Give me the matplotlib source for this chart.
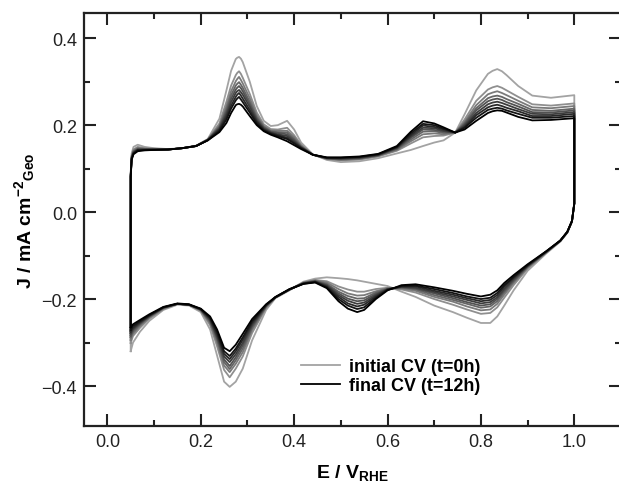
import numpy as np
import matplotlib
matplotlib.use('Agg')
import matplotlib.pyplot as plt

plt.rcParams['font.family'] = ['Liberation Sans', 'DejaVu Sans']
plt.rcParams['mathtext.fontset'] = 'custom'
plt.rcParams['mathtext.rm'] = 'Liberation Sans'
plt.rcParams['mathtext.bf'] = 'Liberation Sans:bold'
plt.rcParams['mathtext.default'] = 'bf'

# potentials of the anodic (upward) and cathodic (downward) sweep, V vs RHE
E_UP = [0.050, 0.050, 0.052, 0.056, 0.065, 0.080, 0.100, 0.130, 0.160, 0.190,
        0.215, 0.240, 0.255, 0.265, 0.275, 0.278, 0.282, 0.286, 0.290, 0.305,
        0.320, 0.335, 0.350, 0.365, 0.385, 0.400, 0.415, 0.440, 0.470, 0.500,
        0.540, 0.580, 0.620, 0.650, 0.676, 0.700, 0.720, 0.745, 0.765, 0.790,
        0.815, 0.825, 0.835, 0.845, 0.855, 0.880, 0.910, 0.950, 1.000]
E_DOWN = [1.000, 0.995, 0.985, 0.970, 0.940, 0.900, 0.870, 0.850, 0.835, 0.820,
          0.800, 0.770, 0.740, 0.700, 0.660, 0.630, 0.600, 0.575, 0.550, 0.535,
          0.515, 0.495, 0.470, 0.445, 0.420, 0.390, 0.360, 0.340, 0.310, 0.290,
          0.275, 0.262, 0.250, 0.235, 0.220, 0.200, 0.175, 0.150, 0.120, 0.090,
          0.070, 0.055, 0.050]

# current density (mA/cm2) at each potential, one column per CV, t=0h -> t=12h
J_UP = [
    [-0.320, -0.301, -0.294, -0.288, -0.284, -0.279, -0.275, -0.271, -0.265],
    [0.090, 0.087, 0.085, 0.084, 0.083, 0.083, 0.082, 0.081, 0.080],
    [0.135, 0.130, 0.128, 0.126, 0.125, 0.124, 0.123, 0.122, 0.120],
    [0.150, 0.144, 0.142, 0.140, 0.139, 0.137, 0.136, 0.135, 0.133],
    [0.155, 0.150, 0.148, 0.146, 0.145, 0.144, 0.143, 0.142, 0.140],
    [0.150, 0.147, 0.146, 0.145, 0.145, 0.144, 0.143, 0.143, 0.142],
    [0.147, 0.146, 0.145, 0.145, 0.144, 0.144, 0.144, 0.143, 0.143],
    [0.145, 0.144, 0.144, 0.144, 0.144, 0.144, 0.144, 0.144, 0.144],
    [0.147, 0.147, 0.147, 0.147, 0.147, 0.147, 0.147, 0.147, 0.147],
    [0.153, 0.152, 0.152, 0.152, 0.152, 0.152, 0.152, 0.152, 0.152],
    [0.168, 0.167, 0.167, 0.166, 0.166, 0.166, 0.166, 0.165, 0.165],
    [0.215, 0.204, 0.200, 0.197, 0.195, 0.192, 0.190, 0.187, 0.184],
    [0.280, 0.254, 0.244, 0.237, 0.231, 0.225, 0.219, 0.213, 0.205],
    [0.325, 0.291, 0.278, 0.269, 0.261, 0.253, 0.245, 0.238, 0.228],
    [0.352, 0.315, 0.301, 0.291, 0.282, 0.274, 0.265, 0.257, 0.246],
    [0.355, 0.320, 0.306, 0.295, 0.286, 0.278, 0.270, 0.261, 0.248],
    [0.357, 0.324, 0.311, 0.299, 0.290, 0.281, 0.274, 0.265, 0.249],
    [0.353, 0.318, 0.304, 0.293, 0.285, 0.276, 0.268, 0.259, 0.247],
    [0.345, 0.309, 0.296, 0.286, 0.278, 0.270, 0.261, 0.253, 0.243],
    [0.300, 0.272, 0.262, 0.254, 0.248, 0.242, 0.235, 0.229, 0.221],
    [0.244, 0.229, 0.223, 0.218, 0.215, 0.211, 0.208, 0.204, 0.200],
    [0.210, 0.202, 0.198, 0.196, 0.194, 0.192, 0.190, 0.188, 0.186],
    [0.198, 0.191, 0.188, 0.186, 0.185, 0.183, 0.182, 0.180, 0.178],
    [0.200, 0.190, 0.187, 0.184, 0.182, 0.179, 0.177, 0.175, 0.172],
    [0.210, 0.194, 0.187, 0.183, 0.179, 0.175, 0.171, 0.168, 0.163],
    [0.190, 0.177, 0.173, 0.169, 0.166, 0.163, 0.160, 0.158, 0.154],
    [0.160, 0.155, 0.153, 0.151, 0.150, 0.149, 0.148, 0.147, 0.145],
    [0.133, 0.132, 0.132, 0.132, 0.132, 0.132, 0.132, 0.132, 0.132],
    [0.120, 0.122, 0.123, 0.123, 0.124, 0.124, 0.125, 0.125, 0.126],
    [0.115, 0.119, 0.120, 0.121, 0.122, 0.123, 0.124, 0.125, 0.126],
    [0.117, 0.121, 0.122, 0.123, 0.124, 0.125, 0.126, 0.127, 0.128],
    [0.124, 0.128, 0.129, 0.130, 0.131, 0.131, 0.132, 0.133, 0.134],
    [0.135, 0.141, 0.143, 0.145, 0.146, 0.148, 0.149, 0.150, 0.152],
    [0.143, 0.158, 0.163, 0.167, 0.171, 0.174, 0.177, 0.181, 0.185],
    [0.152, 0.172, 0.179, 0.185, 0.190, 0.194, 0.199, 0.203, 0.209],
    [0.160, 0.175, 0.181, 0.186, 0.189, 0.193, 0.196, 0.200, 0.204],
    [0.165, 0.176, 0.179, 0.182, 0.185, 0.187, 0.190, 0.192, 0.195],
    [0.183, 0.183, 0.183, 0.183, 0.183, 0.183, 0.183, 0.183, 0.183],
    [0.225, 0.213, 0.208, 0.205, 0.202, 0.199, 0.196, 0.194, 0.190],
    [0.280, 0.256, 0.246, 0.239, 0.234, 0.228, 0.223, 0.217, 0.210],
    [0.318, 0.282, 0.271, 0.262, 0.255, 0.248, 0.241, 0.235, 0.228],
    [0.325, 0.287, 0.275, 0.266, 0.259, 0.252, 0.245, 0.238, 0.232],
    [0.329, 0.290, 0.278, 0.268, 0.261, 0.254, 0.247, 0.240, 0.234],
    [0.324, 0.286, 0.274, 0.265, 0.258, 0.251, 0.244, 0.238, 0.233],
    [0.315, 0.280, 0.269, 0.260, 0.253, 0.247, 0.240, 0.234, 0.229],
    [0.290, 0.265, 0.256, 0.249, 0.243, 0.237, 0.232, 0.226, 0.219],
    [0.268, 0.248, 0.241, 0.235, 0.230, 0.226, 0.221, 0.217, 0.211],
    [0.263, 0.245, 0.239, 0.233, 0.229, 0.225, 0.221, 0.217, 0.212],
    [0.269, 0.250, 0.244, 0.238, 0.234, 0.230, 0.226, 0.221, 0.216],
]
J_DOWN = [
    [0.020, 0.020, 0.020, 0.020, 0.020, 0.020, 0.020, 0.020, 0.020],
    [-0.022, -0.021, -0.021, -0.021, -0.021, -0.021, -0.021, -0.021, -0.020],
    [-0.048, -0.046, -0.046, -0.046, -0.046, -0.046, -0.046, -0.046, -0.045],
    [-0.068, -0.066, -0.066, -0.066, -0.066, -0.066, -0.066, -0.066, -0.065],
    [-0.095, -0.093, -0.093, -0.092, -0.092, -0.091, -0.091, -0.090, -0.090],
    [-0.135, -0.130, -0.128, -0.126, -0.125, -0.124, -0.123, -0.122, -0.120],
    [-0.180, -0.168, -0.163, -0.160, -0.157, -0.154, -0.151, -0.149, -0.145],
    [-0.215, -0.197, -0.190, -0.185, -0.181, -0.177, -0.172, -0.168, -0.163],
    [-0.240, -0.219, -0.211, -0.205, -0.200, -0.196, -0.191, -0.186, -0.180],
    [-0.255, -0.232, -0.224, -0.217, -0.212, -0.207, -0.202, -0.197, -0.190],
    [-0.255, -0.234, -0.226, -0.220, -0.215, -0.210, -0.205, -0.200, -0.194],
    [-0.243, -0.224, -0.217, -0.211, -0.207, -0.202, -0.198, -0.194, -0.188],
    [-0.230, -0.213, -0.206, -0.202, -0.198, -0.194, -0.190, -0.186, -0.181],
    [-0.215, -0.200, -0.195, -0.191, -0.187, -0.184, -0.181, -0.177, -0.173],
    [-0.195, -0.185, -0.181, -0.178, -0.176, -0.174, -0.171, -0.169, -0.166],
    [-0.183, -0.178, -0.176, -0.174, -0.173, -0.172, -0.171, -0.170, -0.168],
    [-0.170, -0.174, -0.175, -0.176, -0.177, -0.177, -0.178, -0.179, -0.180],
    [-0.165, -0.177, -0.182, -0.185, -0.188, -0.191, -0.194, -0.197, -0.200],
    [-0.160, -0.183, -0.191, -0.198, -0.203, -0.208, -0.213, -0.219, -0.225],
    [-0.157, -0.183, -0.192, -0.199, -0.205, -0.211, -0.217, -0.223, -0.230],
    [-0.154, -0.178, -0.187, -0.193, -0.199, -0.204, -0.210, -0.215, -0.222],
    [-0.152, -0.171, -0.177, -0.183, -0.187, -0.191, -0.195, -0.200, -0.205],
    [-0.150, -0.159, -0.162, -0.165, -0.167, -0.169, -0.171, -0.173, -0.175],
    [-0.153, -0.156, -0.157, -0.158, -0.159, -0.160, -0.160, -0.161, -0.162],
    [-0.160, -0.162, -0.162, -0.163, -0.163, -0.164, -0.164, -0.165, -0.165],
    [-0.180, -0.178, -0.178, -0.178, -0.178, -0.178, -0.178, -0.178, -0.177],
    [-0.198, -0.196, -0.196, -0.196, -0.196, -0.196, -0.196, -0.196, -0.195],
    [-0.225, -0.220, -0.219, -0.217, -0.216, -0.215, -0.214, -0.213, -0.212],
    [-0.295, -0.278, -0.271, -0.267, -0.263, -0.259, -0.255, -0.251, -0.246],
    [-0.360, -0.332, -0.322, -0.314, -0.307, -0.301, -0.294, -0.288, -0.280],
    [-0.390, -0.360, -0.349, -0.341, -0.334, -0.327, -0.320, -0.314, -0.305],
    [-0.402, -0.380, -0.368, -0.361, -0.354, -0.345, -0.338, -0.331, -0.320],
    [-0.390, -0.363, -0.353, -0.345, -0.339, -0.332, -0.326, -0.320, -0.312],
    [-0.330, -0.309, -0.301, -0.295, -0.290, -0.286, -0.281, -0.276, -0.270],
    [-0.270, -0.260, -0.256, -0.253, -0.250, -0.248, -0.245, -0.243, -0.240],
    [-0.230, -0.227, -0.226, -0.225, -0.225, -0.224, -0.223, -0.223, -0.222],
    [-0.215, -0.213, -0.213, -0.213, -0.213, -0.213, -0.213, -0.213, -0.212],
    [-0.213, -0.211, -0.211, -0.211, -0.211, -0.211, -0.211, -0.211, -0.210],
    [-0.225, -0.223, -0.222, -0.221, -0.220, -0.220, -0.219, -0.219, -0.218],
    [-0.250, -0.245, -0.243, -0.241, -0.240, -0.239, -0.238, -0.237, -0.235],
    [-0.275, -0.266, -0.262, -0.259, -0.257, -0.255, -0.253, -0.251, -0.248],
    [-0.300, -0.285, -0.280, -0.276, -0.272, -0.269, -0.266, -0.262, -0.258],
    [-0.320, -0.301, -0.294, -0.288, -0.284, -0.279, -0.275, -0.271, -0.265],
]
LEGEND_FIRST = 'initial CV (t=0h)'
LEGEND_LAST = 'final CV (t=12h)'

j_up = np.array(J_UP).T
j_down = np.array(J_DOWN).T
e_loop = np.concatenate([E_UP, E_DOWN])
n = len(j_up)

fig = plt.figure(figsize=(6.19, 4.89), dpi=100)
ax = fig.add_axes([84 / 619, 62 / 489, 537 / 619, 413 / 489])

# light grey for the first cycle, getting darker up to black for the last one
greys = np.linspace(0.64, 0.0, n)
for k in range(n):
    label = '_nolegend_'
    if k == 0:
        label = LEGEND_FIRST
    elif k == n - 1:
        label = LEGEND_LAST
    ax.plot(e_loop, np.concatenate([j_up[k], j_down[k]]),
            color=str(greys[k]), lw=1.3, label=label)

ax.set_xlim(-0.05, 1.1)
ax.set_ylim(-0.492, 0.458)
ax.set_xticks([0.0, 0.2, 0.4, 0.6, 0.8, 1.0])
ax.set_xticks(np.arange(0.1, 1.1, 0.2), minor=True)
ax.set_yticks([-0.4, -0.2, 0.0, 0.2, 0.4])
ax.set_yticks([-0.3, -0.1, 0.1, 0.3], minor=True)
ax.tick_params(which='both', direction='in', top=True, right=True,
               width=1.5, labelsize=13, pad=5, colors='#222222')
ax.tick_params(which='major', length=8.5)
ax.tick_params(which='minor', length=4.5)
for sp in ax.spines.values():
    sp.set_linewidth(1.6)
    sp.set_color('#222222')
# the right frame line falls just outside the cropped picture
ax.spines['right'].set_visible(False)

ax.set_xlabel(r'E / V$_{RHE}$', fontsize=14, fontweight='bold', labelpad=9)
ax.set_ylabel(r'J / mA cm$^{-2}$$_{Geo}$', fontsize=14, fontweight='bold', labelpad=3)

ax.legend(loc='lower left', bbox_to_anchor=(0.39, 0.06), frameon=False,
          prop={'weight': 'bold', 'size': 13}, handlelength=2.2,
          handletextpad=0.5, labelspacing=0.1, borderaxespad=0)

fig.savefig('out.png', dpi=100)
